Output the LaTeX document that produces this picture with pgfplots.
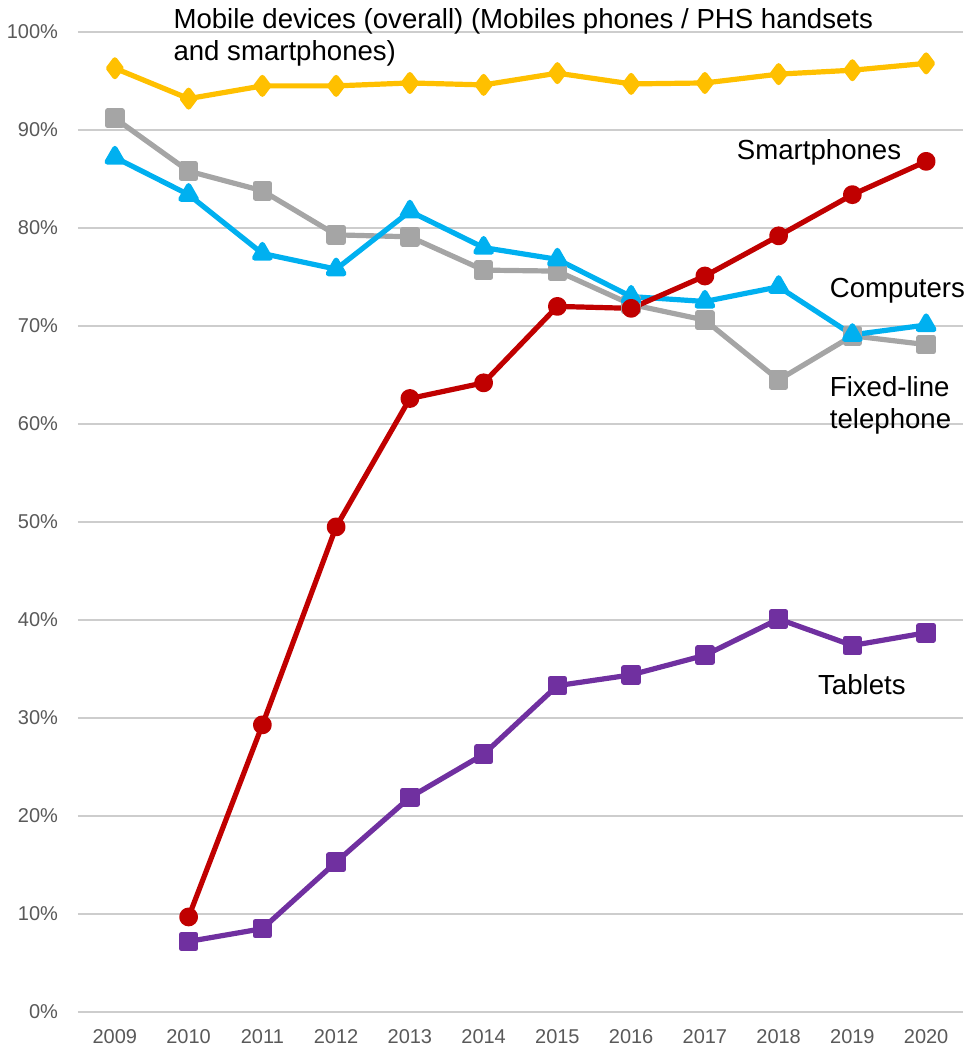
\documentclass[border=0pt]{standalone}
\usepackage{pgfplots}
\pgfplotsset{compat=1.18}
\usepackage{fontspec}
\setmainfont{Liberation Sans}
\definecolor{cMob}{RGB}{255,192,0}
\definecolor{cFix}{RGB}{165,165,165}
\definecolor{cPC}{RGB}{0,176,240}
\definecolor{cSP}{RGB}{192,0,0}
\definecolor{cTab}{RGB}{112,48,160}
\definecolor{cGrid}{RGB}{205,205,205}
\definecolor{cTick}{RGB}{89,89,89}
\begin{document}
\begin{tikzpicture}
\begin{axis}[
  at={(0pt,0pt)}, anchor=south west,
  scale only axis,
  width=442.5pt, height=490pt,
  xmin=-0.5, xmax=11.5, ymin=0, ymax=100,
  xtick={0,...,11},
  xticklabels={2009,2010,2011,2012,2013,2014,2015,2016,2017,2018,2019,2020},
  ytick={0,10,...,100},
  yticklabels={0\%,10\%,20\%,30\%,40\%,50\%,60\%,70\%,80\%,90\%,100\%},
  ymajorgrids,
  grid style={cGrid, line width=0.9pt},
  axis line style={draw=none},
  tick style={draw=none},
  ticklabel style={font=\fontsize{10}{12}\selectfont, text=cTick},
  yticklabel style={xshift=-6.5pt},
  xticklabel style={yshift=-5pt},
  clip=false,
  every axis plot/.append style={line width=2.6pt, line join=round},
]
\addplot[cMob, mark=diamond*, mark size=4.2pt, mark options={solid}] coordinates {
(0,96.3)(1,93.2)(2,94.5)(3,94.5)(4,94.8)(5,94.6)(6,95.8)(7,94.7)(8,94.8)(9,95.7)(10,96.1)(11,96.8)};
\addplot[cFix, mark=square*, mark size=3.6pt] coordinates {
(0,91.2)(1,85.8)(2,83.8)(3,79.3)(4,79.1)(5,75.7)(6,75.6)(7,72.2)(8,70.6)(9,64.5)(10,69.0)(11,68.1)};
\addplot[cPC, mark=triangle*, mark size=4.5pt] coordinates {
(0,87.2)(1,83.4)(2,77.4)(3,75.8)(4,81.7)(5,78.0)(6,76.8)(7,73.0)(8,72.5)(9,74.0)(10,69.1)(11,70.1)};
\addplot[cSP, mark=*, mark size=3.4pt] coordinates {
(1,9.7)(2,29.3)(3,49.5)(4,62.6)(5,64.2)(6,72.0)(7,71.8)(8,75.1)(9,79.2)(10,83.4)(11,86.8)};
\addplot[cTab, mark=square*, mark size=3.6pt] coordinates {
(1,7.2)(2,8.5)(3,15.3)(4,21.9)(5,26.3)(6,33.3)(7,34.4)(8,36.4)(9,40.1)(10,37.4)(11,38.7)};
\node[anchor=north west, align=left, font=\fontsize{13.8}{16}\selectfont, inner sep=0pt] at (axis cs:0.79,102.4)
  {Mobile devices (overall) (Mobiles phones / PHS handsets\\and smartphones)};
\node[anchor=west, font=\fontsize{13.8}{16}\selectfont, inner sep=0pt] at (axis cs:8.43,87.75) {Smartphones};
\node[anchor=west, font=\fontsize{13.8}{16}\selectfont, inner sep=0pt] at (axis cs:9.69,73.6) {Computers};
\node[anchor=west, align=left, font=\fontsize{13.8}{16}\selectfont, inner sep=0pt] at (axis cs:9.69,61.9) {Fixed-line\\telephone};
\node[anchor=west, font=\fontsize{13.8}{16}\selectfont, inner sep=0pt] at (axis cs:9.53,33.4) {Tablets};
\end{axis}
\pgfresetboundingbox
\useasboundingbox (-39pt,-19pt) rectangle (444.5pt,506pt);
\end{tikzpicture}
\end{document}
